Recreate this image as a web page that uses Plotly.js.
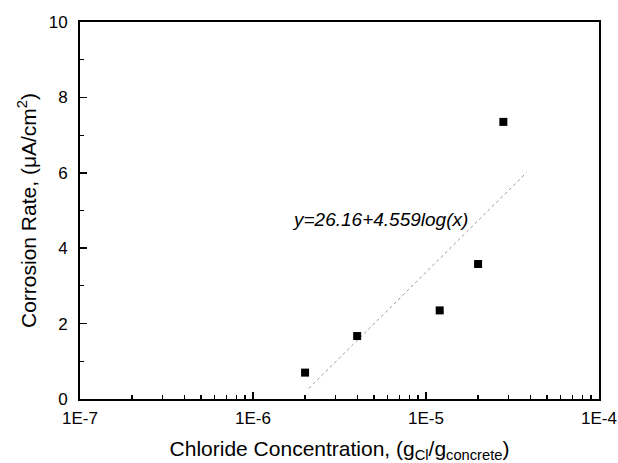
<!DOCTYPE html>
<html>
<head>
<meta charset="utf-8">
<script src="https://cdn.plot.ly/plotly-3.0.1.min.js"></script>
<style>html,body{margin:0;padding:0;background:#fff;}#chart{width:618px;height:463px;}</style>
</head>
<body>
<div id="chart"></div>
<script>
// Data
const chlorideConc = [2.0e-6, 4.0e-6, 1.2e-5, 2.0e-5, 2.8e-5];
const corrosionRate = [0.70, 1.67, 2.35, 3.58, 7.35];
// Fit line endpoints (y = 26.16 + 4.559 log(x))
const fitX = [2.1e-6, 3.8e-5];
const fitY = [0.28, 6.0];
const xTickVals = [1e-7, 1e-6, 1e-5, 1e-4];
const xTickText = ['1E-7', '1E-6', '1E-5', '1E-4'];
const yTickVals = [0, 2, 4, 6, 8, 10];
const fitLabel = 'y=26.16+4.559log(x)';

const xMinor = [];
for (let d = -7; d < -4; d++) {
  for (let m = 2; m <= 9; m++) xMinor.push(m * Math.pow(10, d));
}

const font = 'Liberation Sans, Arial, sans-serif';

const traces = [
  {
    x: fitX, y: fitY, mode: 'lines', type: 'scatter',
    line: {color: '#999', width: 1, dash: 'dot'}, hoverinfo: 'skip', showlegend: false
  },
  {
    x: chlorideConc, y: corrosionRate, mode: 'markers', type: 'scatter',
    marker: {symbol: 'square', size: 8, color: '#000'}, showlegend: false
  }
];

const layout = {
  width: 618, height: 463,
  margin: {l: 80, r: 19, t: 22, b: 64},
  paper_bgcolor: '#fff', plot_bgcolor: '#fff',
  font: {family: font, color: '#000', size: 17},
  showlegend: false,
  xaxis: {
    type: 'log', range: [-7, -4],
    tickmode: 'array', tickvals: xTickVals, ticktext: xTickText,
    ticks: 'inside', ticklen: 7, tickwidth: 1.5, tickcolor: '#000',
    ticklabelstandoff: 3,
    minor: {tickmode: 'array', tickvals: xMinor, ticks: 'inside', ticklen: 4, tickwidth: 1.2, tickcolor: '#000', showgrid: false},
    showline: true, linecolor: '#000', linewidth: 2, mirror: true,
    showgrid: false, zeroline: false,
    tickfont: {size: 17},
    title: {text: 'Chloride Concentration, (g<sub>Cl</sub>/g<sub>concrete</sub>)', font: {size: 21}, standoff: 14}
  },
  yaxis: {
    range: [0, 10],
    tickmode: 'array', tickvals: yTickVals,
    ticks: 'inside', ticklen: 7, tickwidth: 1.5, tickcolor: '#000',
    ticklabelstandoff: 7,
    minor: {dtick: 1, ticks: 'inside', ticklen: 4, tickwidth: 1.2, tickcolor: '#000', showgrid: false},
    showline: true, linecolor: '#000', linewidth: 2, mirror: true,
    showgrid: false, zeroline: false,
    tickfont: {size: 17},
    title: {text: 'Corrosion Rate, (μA/cm<sup>2</sup>)', font: {size: 21}, standoff: 6}
  },
  annotations: [{
    x: Math.log10(5.4e-6), y: 4.75, xref: 'x', yref: 'y',
    text: '<i>' + fitLabel + '</i>', showarrow: false,
    font: {size: 19, family: font, color: '#000'}
  }]
};

Plotly.newPlot('chart', traces, layout, {displayModeBar: false, staticPlot: true});
</script>
</body>
</html>
